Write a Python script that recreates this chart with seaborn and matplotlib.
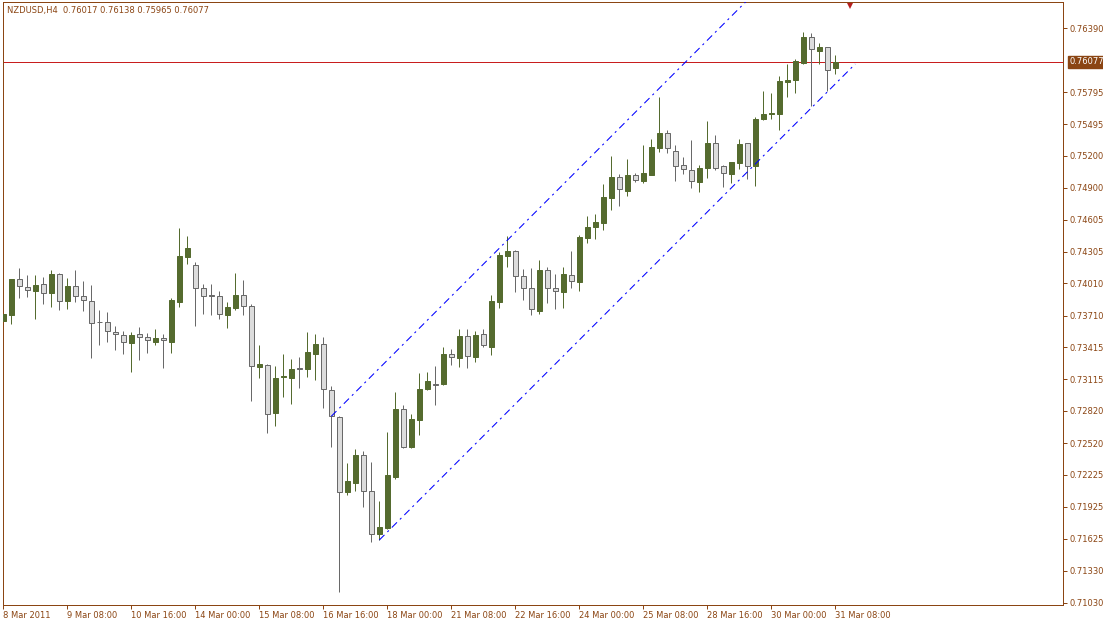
import matplotlib
matplotlib.use("Agg")
import matplotlib.pyplot as plt
import matplotlib.transforms as mtransforms
import seaborn as sns
import numpy as np
import pandas as pd

sns.set_theme(style="white")
plt.rcParams["font.family"] = ["DejaVu Sans"]

# NZDUSD H4 candles
opens = [0.73662, 0.73718, 0.74048, 0.73973, 0.73942, 0.74001, 0.73923, 0.74097, 0.73843, 0.73985,
         0.73889, 0.73845, 0.73647, 0.73647, 0.73553, 0.73525, 0.73456, 0.73535, 0.73507, 0.73466,
         0.73500, 0.73466, 0.73839, 0.74259, 0.74179, 0.73964, 0.73899, 0.73889, 0.73718, 0.73783,
         0.73899, 0.73796, 0.73232, 0.73246, 0.72798, 0.73134, 0.73130, 0.73217, 0.73214, 0.73354,
         0.73441, 0.73012, 0.72760, 0.72060, 0.72150, 0.72406, 0.72070, 0.71669, 0.71725, 0.72206,
         0.72835, 0.72486, 0.72732, 0.73022, 0.73071, 0.73068, 0.73351, 0.73316, 0.73519, 0.73326,
         0.73535, 0.73419, 0.73839, 0.74268, 0.74309, 0.74076, 0.73964, 0.73755, 0.74132, 0.73964,
         0.73932, 0.74085, 0.74026, 0.74436, 0.74533, 0.74576, 0.74809, 0.75000, 0.74875, 0.75018,
         0.74968, 0.75024, 0.75276, 0.75410, 0.75245, 0.75112, 0.75065, 0.74959, 0.75089, 0.75320,
         0.75102, 0.75033, 0.75136, 0.75317, 0.75108, 0.75544, 0.75590, 0.75593, 0.75892, 0.75910,
         0.76069, 0.76309, 0.76181, 0.76213, 0.76017]
highs = [0.73762, 0.74051, 0.74153, 0.74088, 0.74088, 0.74069, 0.74135, 0.74107, 0.74060, 0.74135,
         0.74032, 0.73995, 0.73762, 0.73743, 0.73612, 0.73566, 0.73556, 0.73603, 0.73547, 0.73584,
         0.73538, 0.73871, 0.74527, 0.74452, 0.74206, 0.74004, 0.74004, 0.73939, 0.73833, 0.74107,
         0.74041, 0.73815, 0.73435, 0.73255, 0.73239, 0.73351, 0.73304, 0.73323, 0.73556, 0.73538,
         0.73510, 0.73052, 0.72770, 0.72334, 0.72465, 0.72446, 0.72343, 0.71979, 0.72623, 0.72996,
         0.72875, 0.72788, 0.73174, 0.73183, 0.73239, 0.73416, 0.73397, 0.73584, 0.73584, 0.73566,
         0.73584, 0.73901, 0.74306, 0.74452, 0.74321, 0.74144, 0.74153, 0.74228, 0.74163, 0.74097,
         0.74163, 0.74312, 0.74461, 0.74639, 0.74657, 0.74937, 0.75198, 0.75031, 0.75170, 0.75040,
         0.75301, 0.75357, 0.75749, 0.75441, 0.75301, 0.75189, 0.75348, 0.75114, 0.75525, 0.75394,
         0.75114, 0.75142, 0.75357, 0.75320, 0.75562, 0.75805, 0.75786, 0.75945, 0.76057, 0.76104,
         0.76355, 0.76346, 0.76253, 0.76213, 0.76138]
lows = [0.73643, 0.73634, 0.73876, 0.73886, 0.73680, 0.73820, 0.73792, 0.73764, 0.73774, 0.73839,
        0.73755, 0.73316, 0.73438, 0.73466, 0.73391, 0.73354, 0.73186, 0.73298, 0.73363, 0.73438,
        0.73223, 0.73363, 0.73792, 0.74193, 0.73615, 0.73727, 0.73718, 0.73680, 0.73596, 0.73764,
        0.73718, 0.72915, 0.73130, 0.72617, 0.72682, 0.72952, 0.72887, 0.73036, 0.73139, 0.73111,
        0.72850, 0.72480, 0.71133, 0.72032, 0.72075, 0.71926, 0.71594, 0.71615, 0.71721, 0.72187,
        0.72477, 0.72477, 0.72598, 0.73012, 0.72878, 0.73066, 0.73248, 0.73232, 0.73223, 0.73279,
        0.73419, 0.73344, 0.73783, 0.74166, 0.73927, 0.73852, 0.73718, 0.73727, 0.73830, 0.73774,
        0.73783, 0.73964, 0.73942, 0.74389, 0.74427, 0.74511, 0.74697, 0.74735, 0.74828, 0.74959,
        0.74949, 0.75024, 0.75239, 0.75229, 0.74968, 0.75033, 0.74903, 0.74865, 0.74996, 0.75071,
        0.74912, 0.74949, 0.75080, 0.74987, 0.74919, 0.75534, 0.75544, 0.75444, 0.75752, 0.75789,
        0.76054, 0.75668, 0.76060, 0.75808, 0.75965]
closes = [0.73721, 0.74051, 0.73983, 0.73945, 0.73995, 0.73917, 0.74097, 0.73843, 0.73985, 0.73889,
          0.73852, 0.73637, 0.73645, 0.73563, 0.73535, 0.73460, 0.73525, 0.73507, 0.73479, 0.73500,
          0.73479, 0.73855, 0.74265, 0.74340, 0.73964, 0.73889, 0.73889, 0.73721, 0.73787, 0.73899,
          0.73796, 0.73239, 0.73258, 0.72788, 0.73124, 0.73146, 0.73211, 0.73210, 0.73367, 0.73441,
          0.73022, 0.72770, 0.72060, 0.72163, 0.72406, 0.72070, 0.71669, 0.71734, 0.72219, 0.72835,
          0.72486, 0.72742, 0.73022, 0.73096, 0.73066, 0.73351, 0.73320, 0.73519, 0.73329, 0.73528,
          0.73432, 0.73845, 0.74275, 0.74309, 0.74076, 0.73964, 0.73768, 0.74132, 0.73964, 0.73936,
          0.74097, 0.74029, 0.74443, 0.74536, 0.74583, 0.74816, 0.75000, 0.74888, 0.75018, 0.74972,
          0.75037, 0.75280, 0.75410, 0.75276, 0.75108, 0.75074, 0.74962, 0.75084, 0.75320, 0.75089,
          0.75037, 0.75142, 0.75310, 0.75108, 0.75544, 0.75590, 0.75600, 0.75898, 0.75908, 0.76085,
          0.76309, 0.76200, 0.76215, 0.76004, 0.76077]

xtick_bars = [0, 8, 16, 24, 32, 40, 48, 56, 64, 72, 80, 88, 96, 104]
xtick_labels = ["8 Mar 2011", "9 Mar 08:00", "10 Mar 16:00", "14 Mar 00:00", "15 Mar 08:00",
                "16 Mar 16:00", "18 Mar 00:00", "21 Mar 08:00", "22 Mar 16:00", "24 Mar 00:00",
                "25 Mar 08:00", "28 Mar 16:00", "30 Mar 00:00", "31 Mar 08:00"]
ytick_labels = ["0.76390", "0.75795", "0.75495", "0.75200", "0.74900", "0.74605", "0.74305",
                "0.74010", "0.73710", "0.73415", "0.73115", "0.72820", "0.72520", "0.72225",
                "0.71925", "0.71625", "0.71330", "0.71030"]
last_price = 0.76077
header = "NZDUSD,H4  0.76017 0.76138 0.75965 0.76077"

# channel lines (bar index, price)
upper_x = [41, 96]
upper_y = [0.72770, 0.76875]
lower_x = [47, 106.5]
lower_y = [0.71615, 0.76057]

df = pd.DataFrame({"open": opens, "high": highs, "low": lows, "close": closes})
df["bar"] = np.arange(len(df))
df["up"] = df["close"] > df["open"]

frame = "#8B4513"
bull = "#556B2F"
bear_fill = "#dcdcdc"
bear_edge = "#696969"
px = 0.72

fig = plt.figure(figsize=(11.03, 6.24), dpi=100)
ax = fig.add_axes([0.00227, 0.03045, 0.9617, 0.96683])

for up, grp in df.groupby("up"):
    edge = bull if up else bear_edge
    fill = bull if up else bear_fill
    ax.vlines(grp["bar"], grp["low"], grp["high"], color=edge, lw=px, zorder=2)
    body_lo = grp[["open", "close"]].min(axis=1)
    body_h = (grp["close"] - grp["open"]).abs()
    ax.bar(grp["bar"], body_h, bottom=body_lo, width=0.56, color=fill,
           edgecolor=edge, linewidth=px, zorder=3)

ax.plot(upper_x, upper_y, color="#0000ff", lw=0.75, dashes=(7, 4, 2, 4), zorder=4)
ax.plot(lower_x, lower_y, color="#0000ff", lw=0.75, dashes=(7, 4, 2, 4), zorder=4)

ax.axhline(last_price, color="#c81e1e", lw=px, zorder=1)

ax.set_xlim(-0.1, 132.5)
ax.set_ylim(0.71009, 0.76638)

ax.set_xticks(xtick_bars)
ax.set_xticklabels(xtick_labels)
for lab in ax.get_xticklabels():
    lab.set_ha("left")
ax.set_yticks([float(v) for v in ytick_labels])
ax.set_yticklabels(ytick_labels)

ax.tick_params(axis="x", bottom=True, direction="out", length=3, width=px,
               color=frame, labelcolor=frame, labelsize=6, pad=1.5)
ax.tick_params(axis="y", left=False, labelleft=False, right=True, labelright=True,
               direction="out", length=3, width=px, color=frame, labelcolor=frame,
               labelsize=6, pad=1.5)
for s in ax.spines.values():
    s.set_color(frame)
    s.set_linewidth(px)
ax.grid(False)

ax.annotate("0.76077", xy=(1, last_price), xycoords=("axes fraction", "data"),
            xytext=(4.5, 0), textcoords="offset points", ha="left", va="center",
            color="white", fontsize=6,
            bbox=dict(boxstyle="square,pad=0.2", fc=frame, ec=frame))

ax.text(0.0042, 0.985, header, transform=ax.transAxes, ha="left", va="center",
        fontsize=6, color=frame)

# chart shift marker at the top edge
trans = mtransforms.blended_transform_factory(ax.transData, ax.transAxes)
ax.plot([105.8], [0.9925], marker="v", markersize=5, markeredgewidth=0,
        color="#b52020", transform=trans, clip_on=False, zorder=5)

fig.savefig("out.png", dpi=100)
